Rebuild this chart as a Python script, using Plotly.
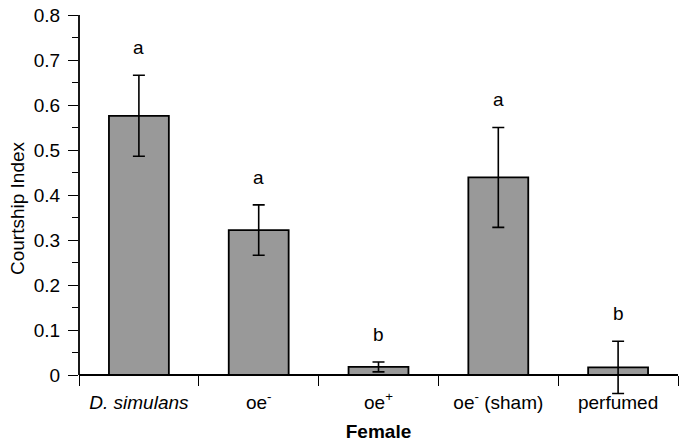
import plotly.graph_objects as go

categories = ["<i>D. simulans</i>", "oe<sup>-</sup>", "oe<sup>+</sup>", "oe<sup>-</sup> (sham)", "perfumed"]
courtship = [0.576, 0.322, 0.018, 0.439, 0.017]
sem = [0.090, 0.056, 0.011, 0.111, 0.058]
letters = ["a", "a", "b", "a", "b"]
y_ticks = [0, 0.1, 0.2, 0.3, 0.4, 0.5, 0.6, 0.7, 0.8]

FONT = "Liberation Sans, Arial, Helvetica, sans-serif"
FS = 19
Y_MIN = -0.06  # room below zero for the perfumed error bar
Y_MAX = 0.8

fig = go.Figure()
fig.add_bar(
    x=categories,
    y=courtship,
    width=0.5,
    marker=dict(color="#999999", line=dict(color="black", width=1.8)),
    error_y=dict(type="data", array=sem, color="black", thickness=1.6, width=6),
    showlegend=False,
)

# significance letters above the error bars
for cat, val, err, lab in zip(categories, courtship, sem, letters):
    fig.add_annotation(
        x=cat, y=val + err + 0.062, text=lab, showarrow=False,
        font=dict(size=FS, color="black", family=FONT),
    )

# y axis line only from 0 up to the top
fig.add_shape(type="line", xref="paper", yref="y", x0=0, x1=0, y0=0, y1=Y_MAX,
              line=dict(color="black", width=1.8))

fig.update_xaxes(
    type="category",
    anchor="free",
    position=(0 - Y_MIN) / (Y_MAX - Y_MIN),
    tickson="boundaries",
    ticks="outside",
    ticklen=10,
    tickwidth=1.4,
    tickcolor="black",
    showline=True,
    linecolor="black",
    linewidth=1.8,
    showgrid=False,
    tickfont=dict(size=FS),
    ticklabelstandoff=10,
    title=dict(text="<b>Female</b>", font=dict(size=FS), standoff=12),
    range=[-0.5, 4.5],
    automargin=False,
)
fig.update_yaxes(
    range=[Y_MIN, Y_MAX],
    tickvals=y_ticks,
    ticktext=[f"{v:g}" for v in y_ticks],
    ticks="outside",
    ticklen=10,
    tickwidth=1.4,
    tickcolor="black",
    minor=dict(tickvals=[v + 0.05 for v in y_ticks[:-1]], ticks="outside", ticklen=6,
               tickwidth=1.4, tickcolor="black", showgrid=False),
    showline=False,
    showgrid=False,
    zeroline=False,
    tickfont=dict(size=FS),
    ticklabelstandoff=4,
    ticklabeloverflow="allow",
    title=dict(text="Courtship Index", font=dict(size=FS), standoff=4),
    automargin=False,
)
fig.update_layout(
    width=685,
    height=445,
    margin=dict(l=79, r=7, t=15, b=43),
    plot_bgcolor="white",
    paper_bgcolor="white",
    font=dict(family=FONT, color="black"),
    bargap=0.5,
)
# drop the default 8px page margin so the figure sits at the window corner
fig.write_html(
    "out.html",
    config={"displayModeBar": False},
    post_script="document.body.style.margin = '0';",
)
